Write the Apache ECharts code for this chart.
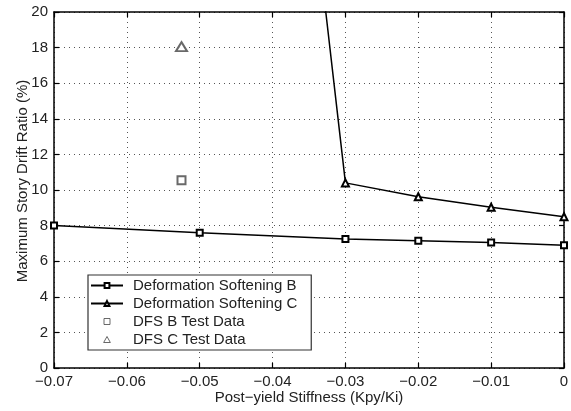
<!DOCTYPE html>
<html>
<head>
<meta charset="utf-8">
<script src="https://cdn.jsdelivr.net/npm/echarts@6/dist/echarts.min.js"></script>
<style>
  html, body { margin: 0; padding: 0; background: #fff; }
  #chart { width: 571px; height: 411px; }
</style>
</head>
<body>
<div id="chart"></div>
<script>
// stiffness values (Kpy/Ki)
const stiffB = [-0.07, -0.05, -0.03, -0.02, -0.01, 0]
const driftB = [8.0, 7.6, 7.25, 7.15, 7.05, 6.9]
const stiffC = [-0.04, -0.03, -0.02, -0.01, 0]
const driftC = [46, 10.4, 9.62, 9.03, 8.5]
const testB = [[-0.0525, 10.55]]
const testC = [[-0.0525, 18.05]]

const pairs = (xs, ys) => xs.map((x, i) => [x, ys[i]])
const fmtX = v => (Math.abs(v) < 1e-9 ? '0' : '\u2212' + Math.abs(v).toFixed(2))

let chart = echarts.init(document.getElementById('chart'))
const font = 'Liberation Sans, Arial, sans-serif'
const gridLine = { show: true, lineStyle: { color: '#555', type: [1, 4], width: 1 } }
const axisLine = { show: true, onZero: false, lineStyle: { color: '#000', width: 1.5 } }
const tick = { show: true, inside: true, length: 5, lineStyle: { color: '#000', width: 1.2 } }
const hollowGray = { color: '#fff', borderColor: '#444', borderWidth: 1 }

let option = {
  animation: false,
  grid: { left: 54, right: 7, top: 12, bottom: 43, containLabel: false, outerBoundsMode: 'none' },
  xAxis: [
    {
      type: 'value', min: -0.07, max: 0, interval: 0.01,
      name: 'Post\u2212yield Stiffness (Kpy/Ki)', nameLocation: 'middle', nameGap: 22, nameMoveOverlap: false,
      nameTextStyle: { color: '#222', fontSize: 15, fontFamily: font },
      axisLine: axisLine, axisTick: tick, splitLine: gridLine,
      axisLabel: { color: '#222', fontSize: 15, fontFamily: font, margin: 6, formatter: fmtX }
    },
    {
      type: 'value', position: 'top', min: -0.07, max: 0, interval: 0.01,
      axisLine: axisLine, axisTick: tick, splitLine: { show: false }, axisLabel: { show: false }
    }
  ],
  yAxis: [
    {
      type: 'value', min: 0, max: 20, interval: 2,
      name: 'Maximum Story Drift Ratio (%)', nameLocation: 'middle', nameGap: 24, nameMoveOverlap: false,
      nameTextStyle: { color: '#222', fontSize: 15, fontFamily: font, padding: [0, 0, 0, 18] },
      axisLine: axisLine, axisTick: tick, splitLine: gridLine,
      axisLabel: { color: '#222', fontSize: 15, fontFamily: font, margin: 6 }
    },
    {
      type: 'value', position: 'right', min: 0, max: 20, interval: 2,
      axisLine: axisLine, axisTick: tick, splitLine: { show: false }, axisLabel: { show: false }
    }
  ],
  legend: {
    left: 88, top: 275, orient: 'vertical',
    backgroundColor: '#fff', borderColor: '#333', borderWidth: 1.2, borderRadius: 0,
    padding: [2, 14, 2, 2], itemGap: 1, itemWidth: 32, itemHeight: 6,
    textStyle: { color: '#222', fontSize: 15, fontFamily: font, lineHeight: 17, padding: [0, 0, 0, 5] },
    data: [
      { name: 'Deformation Softening B' },
      { name: 'Deformation Softening C' },
      { name: 'DFS B Test Data', icon: 'path://M0,0L10,0L10,10L0,10Z', itemStyle: hollowGray },
      { name: 'DFS C Test Data', icon: 'path://M5,0L10,9L0,9Z', itemStyle: hollowGray }
    ]
  },
  series: [
    {
      name: 'Deformation Softening B', type: 'line',
      data: pairs(stiffB, driftB),
      symbol: 'emptyRect', symbolSize: 6,
      lineStyle: { color: '#000', width: 1.5 },
      itemStyle: { color: '#000', borderColor: '#000', borderWidth: 1.2 }
    },
    {
      name: 'Deformation Softening C', type: 'line', clip: true,
      data: pairs(stiffC, driftC),
      symbol: 'emptyTriangle', symbolSize: 7,
      lineStyle: { color: '#000', width: 1.5 },
      itemStyle: { color: '#000', borderColor: '#000', borderWidth: 1.2 }
    },
    {
      name: 'DFS B Test Data', type: 'scatter',
      data: testB, symbol: 'emptyRect', symbolSize: 8,
      itemStyle: { color: '#444', borderColor: '#444', borderWidth: 1 }
    },
    {
      name: 'DFS C Test Data', type: 'scatter',
      data: testC, symbol: 'emptyTriangle', symbolSize: [11, 9],
      itemStyle: { color: '#444', borderColor: '#444', borderWidth: 1 }
    }
  ]
}
chart.setOption(option)
</script>
</body>
</html>
